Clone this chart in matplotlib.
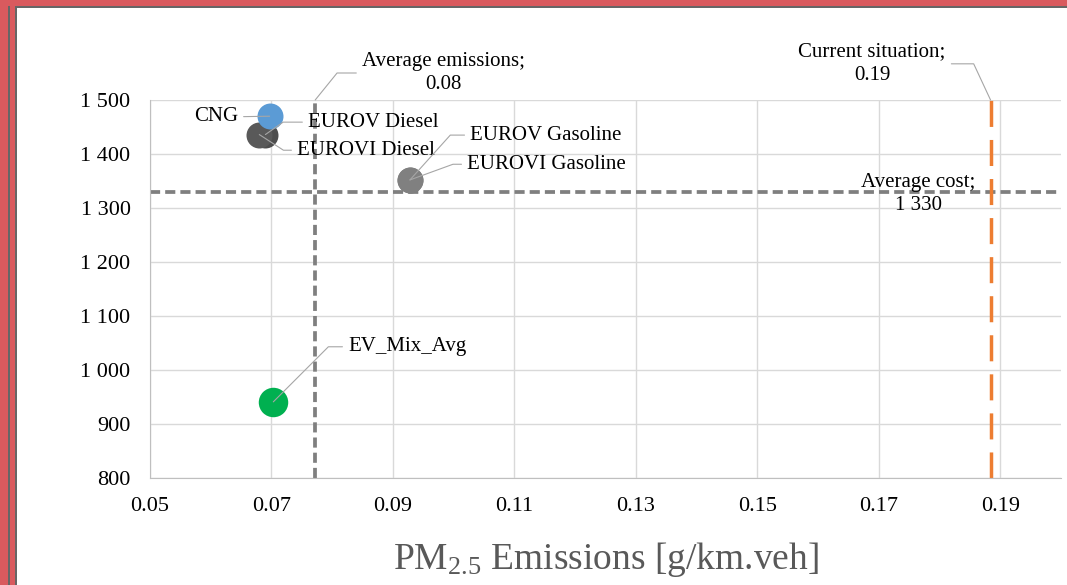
import matplotlib.pyplot as plt
from matplotlib.patches import Rectangle
from matplotlib.ticker import FuncFormatter

plt.rcParams['font.family'] = ['Liberation Serif', 'DejaVu Serif']
plt.rcParams['mathtext.fontset'] = 'custom'
plt.rcParams['mathtext.rm'] = 'Liberation Serif'
plt.rcParams['mathtext.it'] = 'Liberation Serif:italic'

# data
names = ['EUROV Diesel', 'EUROVI Diesel', 'CNG', 'EUROV Gasoline', 'EUROVI Gasoline', 'EV_Mix_Avg']
emissions = [0.0690, 0.0680, 0.0697, 0.0928, 0.0928, 0.0703]
cost = [1436, 1436, 1470, 1352, 1352, 941]
colors = ['#4d4d4d', '#595959', '#5b9bd5', '#808080', '#808080', '#00b050']
sizes = [350, 350, 350, 350, 350, 450]

avg_emission = 0.0772
avg_cost = 1330
current = 0.1884

xticks = [0.05, 0.07, 0.09, 0.11, 0.13, 0.15, 0.17, 0.19]
yticks = [800, 900, 1000, 1100, 1200, 1300, 1400, 1500]

W, H = 1067, 585
fig = plt.figure(figsize=(W / 100, H / 100), dpi=100)
ax = fig.add_axes([150 / W, 1 - 478 / H, 911 / W, 378 / H])

ax.set_xlim(0.05, 0.20)
ax.set_ylim(800, 1500)
ax.set_xticks(xticks)
ax.set_yticks(yticks)
ax.xaxis.set_major_formatter(FuncFormatter(lambda v, p: f"{v:.2f}"))
ax.yaxis.set_major_formatter(FuncFormatter(lambda v, p: f"{int(v):,}".replace(",", " ")))
ax.tick_params(length=0, labelsize=16, pad=14, colors='black')
ax.grid(True, color='#d9d9d9', linewidth=1)
ax.set_axisbelow(True)
for s in ['top', 'right']:
    ax.spines[s].set_visible(False)
for s in ['left', 'bottom']:
    ax.spines[s].set_color('#bfbfbf')

# reference lines
ax.axvline(avg_emission, color='#7f7f7f', lw=2.7, dashes=(2.7, 1.35), zorder=2)
ax.axhline(avg_cost, color='#7f7f7f', lw=2.7, dashes=(2.7, 1.35), zorder=2)
ax.axvline(current, color='#ed7d31', lw=2.5, dashes=(7.5, 3.75), zorder=2)

for i in range(len(names)):
    ax.scatter(emissions[i], cost[i], s=sizes[i], color=colors[i], zorder=3, linewidths=0)

lead = dict(arrowstyle='-', color='#a6a6a6', lw=0.8, shrinkB=0)
fs = 15

def label(text, xy, xytext, angle=None, ha='left', relpos=(0, 0.5)):
    props = dict(lead, relpos=relpos)
    if angle is None:
        props['connectionstyle'] = 'arc3'
    else:
        props['connectionstyle'] = f'angle,angleA=0,angleB={angle},rad=0'
    ax.annotate(text, xy=xy, xytext=xytext, ha=ha, va='center', fontsize=fs,
                multialignment='center', linespacing=1.35, arrowprops=props,
                annotation_clip=False, zorder=5)

label('CNG', (emissions[2], cost[2]), (0.0645, 1469), ha='right', relpos=(1, 0.5))
label('EUROV Diesel', (emissions[0], cost[0]), (0.0760, 1459), angle=35)
label('EUROVI Diesel', (emissions[1], cost[1]), (0.0742, 1407), angle=-33)
label('EUROV Gasoline', (emissions[3], cost[3]), (0.1027, 1435), angle=48)
label('EUROVI Gasoline', (emissions[4], cost[4]), (0.1022, 1381), angle=20)
label('EV_Mix_Avg', (emissions[5], cost[5]), (0.0826, 1043), angle=45)
label(f'Average emissions;\n{avg_emission:.2f}', (avg_emission, 1500), (0.0983, 1550),
      angle=51, ha='center')
label(f'Current situation;\n{current:.2f}', (current, 1500), (0.1689, 1567),
      angle=115, ha='center', relpos=(1, 0.5))
ax.text(0.1765, 1326, 'Average cost;\n' + f"{avg_cost:,}".replace(",", " "),
        ha='center', va='center', fontsize=fs, multialignment='center',
        linespacing=1.35, zorder=5)

ax.set_xlabel('PM$_{2.5}$ Emissions [g/km.veh]', fontsize=27, color='#595959', labelpad=17)

# slide frame around the chart
def px_rect(x, y, w, h, c):
    fig.add_artist(Rectangle((x / W, 1 - (y + h) / H), w / W, h / H,
                             transform=fig.transFigure, color=c, lw=0))

red = '#d95a5e'
px_rect(0, 0, W, 6, red)
px_rect(15, 6, W, 1.5, '#666666')
px_rect(0, 0, 8, H, red)
px_rect(8, 6, 2, H, '#666666')
px_rect(10, 6, 5, H, red)
px_rect(15, 6, 2, H, '#666666')

fig.savefig('out.png', dpi=100)
